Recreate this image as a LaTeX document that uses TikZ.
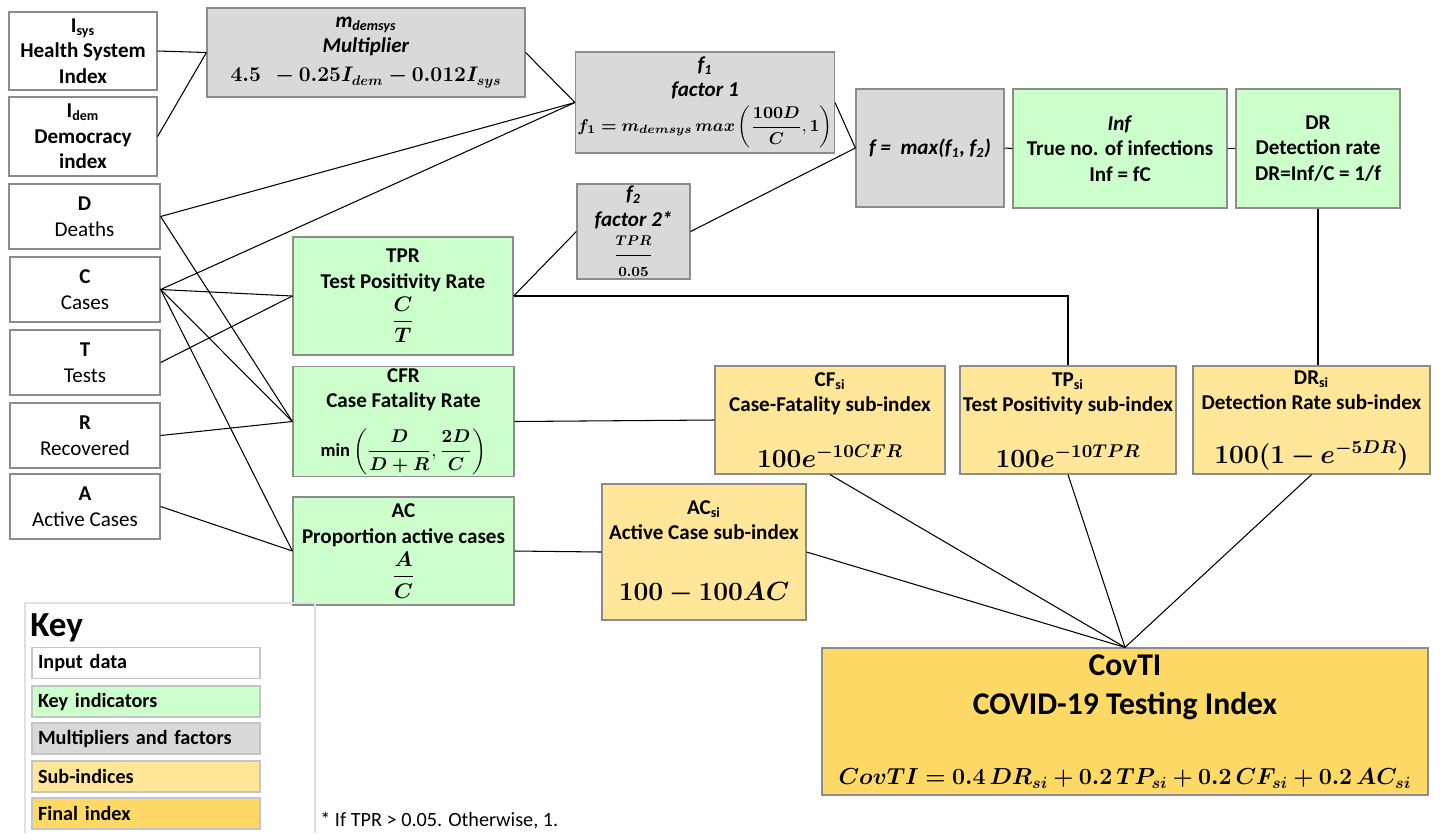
\documentclass[tikz,border=0pt]{standalone}
\usepackage{fix-cm}
\usepackage{amsmath,bm}
\usepackage{fontspec}
\setmainfont{Carlito}
\definecolor{keygreen}{HTML}{CCFFCC}
\definecolor{multgray}{HTML}{D9D9D9}
\definecolor{subyellow}{HTML}{FFE699}
\definecolor{finalgold}{HTML}{FFD966}
\definecolor{boxline}{HTML}{8C8C8C}
\newcommand{\msize}[1]{\fontsize{#1}{#1}\selectfont}

\begin{document}
\begin{tikzpicture}[x=0.02cm,y=-0.02cm,
  box/.style 2 args={draw=boxline,line width=0.7pt,align=center,inner sep=1pt,
    minimum width=#1*0.02cm,minimum height=#2*0.02cm,
    font=\fontsize{12}{14.5}\selectfont\bfseries},
  inbox/.style 2 args={box={#1}{#2},fill=white},
  indbox/.style 2 args={box={#1}{#2},fill=keygreen},
  multbox/.style 2 args={box={#1}{#2},fill=multgray},
  subbox/.style 2 args={box={#1}{#2},fill=subyellow},
  finalbox/.style 2 args={box={#1}{#2},fill=finalgold},
  legbox/.style={draw=boxline!50,line width=0.6pt,text width=4.32cm,inner xsep=0.12cm,
    minimum height=0.62cm,align=left,font=\fontsize{11.5}{13}\selectfont\bfseries},
  link/.style={draw=black,line width=0.6pt}]
  \useasboundingbox (0,0) rectangle (1449,833);

  \node[inbox={148}{78}] (isys) at (83,51) {I\textsubscript{sys}\\Health System\\Index};
  \node[inbox={148}{79}] (idem) at (83,136.5) {I\textsubscript{dem}\\Democracy\\index};
  \node[inbox={151}{65}] (d) at (84.5,216.5) {D\\\mdseries Deaths};
  \node[inbox={150}{65}] (c) at (85,289.5) {C\\\mdseries Cases};
  \node[inbox={150}{65}] (t) at (85,362.5) {T\\\mdseries Tests};
  \node[inbox={150}{65}] (r) at (85,435.5) {R\\\mdseries Recovered};
  \node[inbox={150}{65}] (a) at (85,506.5) {A\\\mdseries Active Cases};

  \node[multbox={318}{89}] (mdem) at (366,52.5)
    {\textit{m\textsubscript{demsys}}\\\textit{Multiplier}\\[2pt]\msize{12}$\bm{4.5\ \ -0.25I_{dem}-0.012I_{sys}}$};
  \node[multbox={256}{101}] (f1) at (705,102.5)
    {\textit{f\textsubscript{1}}\\\textit{factor 1}\\[3pt]\msize{9.7}$\bm{f_1=m_{demsys}\,max}\left(\bm{\dfrac{100D}{C}},\bm{1}\right)$};
  \node[multbox={113}{95}] (f2) at (633.5,231.5)
    {\textit{f\textsubscript{2}}\\\textit{factor 2*}\\[3pt]$\bm{\dfrac{\scriptstyle TPR}{\scriptstyle 0.05}}$};
  \node[multbox={148}{118}] (fmax) at (930,148)
    {\textit{f =\ \ max(f\textsubscript{1}, f\textsubscript{2})}};
  \node[indbox={214}{119}] (inf) at (1120,148.5) {\textit{Inf}\\True no. of infections\\Inf = fC};
  \node[indbox={164}{119}] (dr) at (1318,148.5) {DR\\Detection rate\\DR=Inf/C = 1/f};

  \node[indbox={220}{118}] (tpr) at (403,296) {TPR\\Test Positivity Rate\\[2pt]\msize{12}$\bm{\dfrac{C}{T}}$};
  \node[indbox={221}{109}] (cfr) at (403.5,421.5)
    {CFR\\Case Fatality Rate\\[9pt]\msize{10.5}$\bm{\min}\left(\bm{\dfrac{D}{D+R}},\bm{\dfrac{2D}{C}}\right)$};
  \node[indbox={221}{108}] (ac) at (403.5,551) {AC\\Proportion active cases\\[2pt]\msize{12}$\bm{\dfrac{A}{C}}$};

  \node[subbox={230}{108}] (cfsi) at (830,420)
    {CF\textsubscript{si}\\Case-Fatality sub-index\\[16pt]\msize{15}$\bm{100e^{-10CFR}}$};
  \node[subbox={216}{108}] (tpsi) at (1068,420)
    {TP\textsubscript{si}\\Test Positivity sub-index\\[16pt]\msize{15}$\bm{100e^{-10TPR}}$};
  \node[subbox={237}{108}] (drsi) at (1311.5,420)
    {DR\textsubscript{si}\\Detection Rate sub-index\\[16pt]\msize{15}$\bm{100(1-e^{-5DR})}$};
  \node[subbox={204}{136}] (acsi) at (704,552)
    {AC\textsubscript{si}\\Active Case sub-index\\[20pt]\msize{15}$\bm{100-100AC}$};

  \node[finalbox={606}{147},font=\fontsize{18}{22}\selectfont\bfseries] (covti) at (1125,721.5)
    {CovTI\\COVID-19 Testing Index\\[18pt]\msize{13.2}$\bm{CovTI=0.4\,DR_{si}+0.2\,TP_{si}+0.2\,CF_{si}+0.2\,AC_{si}}$};

  \draw[link] (isys.east) -- (mdem.west);
  \draw[link] (idem.east) -- (mdem.west);
  \draw[link] (mdem.east) -- (f1.west);
  \draw[link] (d.east) -- (f1.west);
  \draw[link] (c.east) -- (f1.west);
  \draw[link] (c.east) -- (tpr.west);
  \draw[link] (t.east) -- (tpr.west);
  \draw[link] (d.east) -- (cfr.west);
  \draw[link] (c.east) -- (cfr.west);
  \draw[link] (r.east) -- (cfr.west);
  \draw[link] (c.east) -- (ac.west);
  \draw[link] (a.east) -- (ac.west);
  \draw[link] (tpr.east) -- (f2.west);
  \draw[link] (f1.east) -- (fmax.west);
  \draw[link] (f2.east) -- (fmax.west);
  \draw[link] (fmax.east) -- (inf.west);
  \draw[link] (inf.east) -- (dr.west);
  \draw[link] (dr.south) -- (dr.south |- drsi.north);
  \draw[link] (tpr.east) -| (tpsi.north);
  \draw[link] (cfr.east) -- (cfsi.west);
  \draw[link] (ac.east) -- (acsi.west);
  \draw[link] (cfsi.south) -- (covti.north);
  \draw[link] (tpsi.south) -- (covti.north);
  \draw[link] (drsi.south) -- (covti.north);
  \draw[link] (acsi.east) -- (covti.north);

  \draw[draw=black!12,line width=0.6pt] (25,833) -- (25,603) -- (315,603) -- (315,833);
  \node[anchor=west,inner sep=0pt,font=\fontsize{20}{22}\selectfont\bfseries] (keytitle) at (30,628) {Key};
  \node[legbox,fill=white] (kin) at (146,663) {Input data};
  \node[legbox,fill=keygreen] (kind) at (146,701.5) {Key indicators};
  \node[legbox,fill=multgray] (kmult) at (146,738.5) {Multipliers and factors};
  \node[legbox,fill=subyellow] (ksub) at (146,776.5) {Sub-indices};
  \node[legbox,fill=finalgold] (kfin) at (146,813.5) {Final index};
  \node[anchor=west,inner sep=0pt,font=\fontsize{11.5}{13}\selectfont] (note) at (320,821)
    {* If TPR > 0.05. Otherwise, 1.};
\end{tikzpicture}
\end{document}
